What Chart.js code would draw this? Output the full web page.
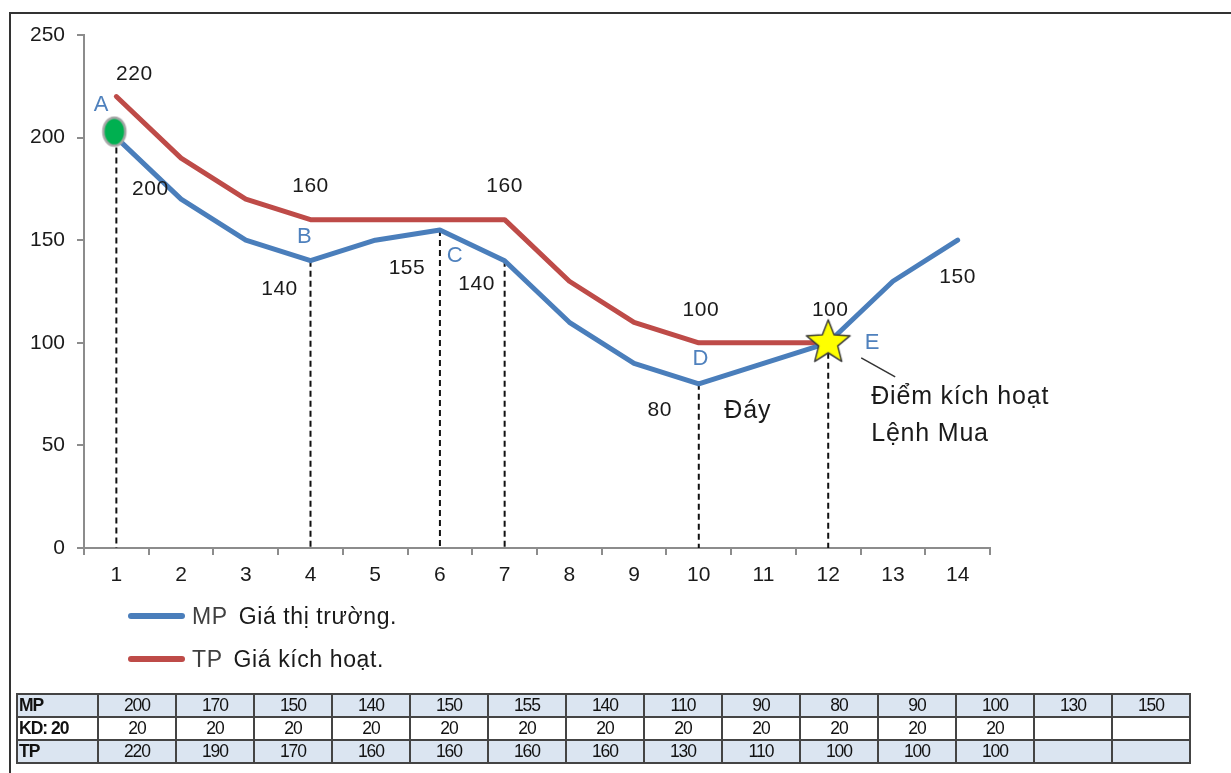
<!DOCTYPE html>
<html>
<head>
<meta charset="utf-8">
<script src="https://cdn.jsdelivr.net/npm/chart.js@4"></script>
<style>
  body { margin: 0; background: #fff; width: 1231px; height: 773px; overflow: hidden; position: relative;
    font-family: 'Liberation Sans', Arial, sans-serif; color: #1a1a1a; }
  #frame { position: absolute; left: 9px; top: 12px; width: 1240px; height: 780px;
    border-top: 2px solid #333; border-left: 2px solid #333; }
  #myChart { position: absolute; left: 0; top: 0; }
  .legend-item { position: absolute; left: 128px; height: 30px; display: flex; align-items: center;
    font-size: 23px; letter-spacing: 0.6px; }
  .legend-line { width: 57px; height: 6px; border-radius: 3px; margin-right: 7px; }
  .legend-code { color: #404040; margin-right: 11px; }
  #data-table { position: absolute; left: 16px; top: 693px; border-collapse: collapse; table-layout: fixed;
    font-family: 'Liberation Sans', Arial, sans-serif; font-size: 17.5px; letter-spacing: -1px; color: #111; }
  #data-table td { border: 2px solid #444; height: 21px; padding: 0; text-align: center; line-height: 21px; }
  #data-table td.row-head { text-align: left; padding-left: 1px; font-weight: bold; }
  #data-table tr.shaded td { background: #dbe5f1; }
</style>
</head>
<body>
<div id="frame"></div>
<canvas id="myChart" width="1231" height="773"></canvas>
<div class="legend-item" style="top:601px"><div class="legend-line" style="background:#4a7ebb"></div><span class="legend-code">MP</span><span>Giá thị trường.</span></div>
<div class="legend-item" style="top:644px"><div class="legend-line" style="background:#be4b48"></div><span class="legend-code">TP</span><span>Giá kích hoạt.</span></div>
<table id="data-table"></table>

<script>
'use strict';

// Chart data
const days = ['1', '2', '3', '4', '5', '6', '7', '8', '9', '10', '11', '12', '13', '14'];
const mpValues = [200, 170, 150, 140, 150, 155, 140, 110, 90, 80, 90, 100, 130, 150];
const kdValues = [20, 20, 20, 20, 20, 20, 20, 20, 20, 20, 20, 20];
const tpValues = [220, 190, 170, 160, 160, 160, 160, 130, 110, 100, 100, 100];
const dropDays = ['1', '4', '6', '7', '10', '12'];
const yMin = 0, yMax = 250, yStep = 50;

const mpLabel = 'MP', tpLabel = 'TP', kdLabel = 'KD: 20';

// text notes, anchored to a series point
const valueNotes = [
  { series: 'tp', day: '1', dx: 18, dy: -22 },
  { series: 'mp', day: '1', dx: 34, dy: 52 },
  { series: 'tp', day: '4', dx: 0, dy: -33 },
  { series: 'tp', day: '7', dx: 0, dy: -33 },
  { series: 'mp', day: '4', dx: -31, dy: 28 },
  { series: 'mp', day: '6', dx: -33, dy: 38 },
  { series: 'mp', day: '7', dx: -28, dy: 23 },
  { series: 'tp', day: '10', dx: 2, dy: -33 },
  { series: 'tp', day: '12', dx: 2, dy: -33 },
  { series: 'mp', day: '10', dx: -39, dy: 26 },
  { series: 'mp', day: '14', dx: 0, dy: 37 }
];
const letterNotes = [
  { text: 'A', day: '1', dx: -15, dy: -33 },
  { text: 'B', day: '4', dx: -6, dy: -24 },
  { text: 'C', day: '6', dx: 15, dy: 26 },
  { text: 'D', day: '10', dx: 2, dy: -25 },
  { text: 'E', day: '12', dx: 44, dy: 0 }
];

// table under the chart
const table = document.querySelector('#data-table');
const colGroup = document.createElement('colgroup');
colGroup.innerHTML = '<col style="width:81px">' + days.map(() => '<col style="width:78px">').join('');
table.appendChild(colGroup);

const addRow = (label, values, shaded) => {
  const tr = document.createElement('tr');
  if (shaded) tr.className = 'shaded';
  let html = `<td class="row-head">${label}</td>`;
  days.forEach((d, i) => {
    html += `<td>${values[i] !== undefined ? values[i] : ''}</td>`;
  });
  tr.innerHTML = html;
  table.appendChild(tr);
};
addRow(mpLabel, mpValues, true);
addRow(kdLabel, kdValues, false);
addRow(tpLabel, tpValues, true);

// point images
const makeEllipse = () => {
  const c = document.createElement('canvas');
  c.width = 40; c.height = 44;
  const g = c.getContext('2d');
  g.beginPath();
  g.ellipse(18, 16, 11, 14, 0, 0, Math.PI * 2);
  g.fillStyle = '#00b050';
  g.fill();
  g.lineWidth = 2.5;
  g.strokeStyle = '#a6a6a6';
  g.stroke();
  return c;
};

const makeStar = () => {
  const c = document.createElement('canvas');
  c.width = 54; c.height = 54;
  const g = c.getContext('2d');
  const R = 23, r = 10;
  g.beginPath();
  for (let i = 0; i < 10; i++) {
    const rad = i % 2 === 0 ? R : r;
    const a = -Math.PI / 2 + i * Math.PI / 5;
    const x = 27 + rad * Math.cos(a), y = 27 + rad * Math.sin(a);
    if (i === 0) g.moveTo(x, y); else g.lineTo(x, y);
  }
  g.closePath();
  g.fillStyle = '#ffff00';
  g.fill();
  g.lineWidth = 1.5;
  g.lineJoin = 'round';
  g.strokeStyle = '#3a3a3a';
  g.stroke();
  return c;
};

const ellipseImg = makeEllipse();
const starImg = makeStar();
const mpPointStyles = days.map(d => d === '1' ? ellipseImg : (d === '12' ? starImg : 'circle'));
const mpPointRadius = days.map(d => (d === '1' || d === '12') ? 10 : 0);

// plugin: dashed drop lines and notes
const notesPlugin = {
  id: 'notes',
  beforeDatasetsDraw(chart) {
    const { ctx, scales: { x, y } } = chart;
    ctx.save();
    ctx.strokeStyle = '#111';
    ctx.lineWidth = 2;
    ctx.setLineDash([6, 4]);
    dropDays.forEach(d => {
      const i = days.indexOf(d);
      const px = x.getPixelForValue(i);
      ctx.beginPath();
      ctx.moveTo(px, y.getPixelForValue(mpValues[i]));
      ctx.lineTo(px, y.getPixelForValue(0));
      ctx.stroke();
    });
    ctx.restore();
  },
  afterDatasetsDraw(chart) {
    const { ctx, scales: { x, y } } = chart;
    const at = (series, day) => {
      const i = days.indexOf(day);
      const v = series === 'tp' ? tpValues[i] : mpValues[i];
      return { px: x.getPixelForValue(i), py: y.getPixelForValue(v), v };
    };
    ctx.save();
    ctx.textAlign = 'center';
    ctx.textBaseline = 'middle';

    ctx.font = '21px "Liberation Sans", Arial, sans-serif';
    ctx.letterSpacing = '0.5px';
    ctx.fillStyle = '#1a1a1a';
    valueNotes.forEach(n => {
      const p = at(n.series, n.day);
      ctx.fillText(String(p.v), p.px + n.dx, p.py + n.dy);
    });

    ctx.font = '22px "Liberation Sans", Arial, sans-serif';
    ctx.fillStyle = '#4f81bd';
    letterNotes.forEach(n => {
      const p = at('mp', n.day);
      ctx.fillText(n.text, p.px + n.dx, p.py + n.dy);
    });

    // bottom and trigger point text
    const bottom = at('mp', '10');
    ctx.fillStyle = '#1a1a1a';
    ctx.font = '25px "Liberation Sans", Arial, sans-serif';
    ctx.letterSpacing = '0.8px';
    ctx.fillText('Đáy', bottom.px + 49, bottom.py + 27);

    const trig = at('mp', '12');
    ctx.textAlign = 'left';
    ctx.fillText('Điểm kích hoạt', trig.px + 43, trig.py + 54);
    ctx.fillText('Lệnh Mua', trig.px + 43, trig.py + 91);

    ctx.strokeStyle = '#333';
    ctx.lineWidth = 1.5;
    ctx.beginPath();
    ctx.moveTo(trig.px + 33, trig.py + 15);
    ctx.lineTo(trig.px + 67, trig.py + 34);
    ctx.stroke();
    ctx.restore();
  }
};

const ctx = document.querySelector('#myChart').getContext('2d');
const axisColor = '#8c8c8c';
const tickFont = { size: 21, family: '"Liberation Sans", Arial, sans-serif' };

const myChart = new Chart(ctx, {
  type: 'line',
  data: {
    labels: days,
    datasets: [{
      label: mpLabel,
      data: mpValues,
      borderColor: '#4a7ebb',
      borderWidth: 5,
      tension: 0,
      borderJoinStyle: 'round',
      borderCapStyle: 'round',
      pointStyle: mpPointStyles,
      pointRadius: mpPointRadius,
      pointHoverRadius: mpPointRadius
    }, {
      label: tpLabel,
      data: tpValues,
      borderColor: '#be4b48',
      borderWidth: 5,
      tension: 0,
      borderJoinStyle: 'round',
      borderCapStyle: 'round',
      pointRadius: 0,
      pointHoverRadius: 0
    }]
  },
  options: {
    responsive: false,
    animation: false,
    layout: {
      padding: { top: 35, right: 241, left: 0, bottom: 0 }
    },
    scales: {
      x: {
        offset: true,
        border: { color: axisColor, width: 2 },
        grid: {
          offset: true,
          drawOnChartArea: false,
          drawTicks: true,
          tickLength: 7,
          color: axisColor,
          lineWidth: 2
        },
        ticks: {
          color: '#1a1a1a',
          font: tickFont,
          padding: 8,
          maxRotation: 0
        },
        afterFit: (scale) => { scale.height = 225; }
      },
      y: {
        min: yMin,
        max: yMax,
        border: { color: axisColor, width: 2 },
        grid: {
          drawOnChartArea: false,
          drawTicks: true,
          tickLength: 7,
          color: axisColor,
          lineWidth: 2
        },
        ticks: {
          stepSize: yStep,
          color: '#1a1a1a',
          font: tickFont,
          padding: 12
        },
        afterFit: (scale) => { scale.width = 84; }
      }
    },
    plugins: {
      legend: { display: false },
      tooltip: { enabled: false }
    }
  },
  plugins: [notesPlugin]
});
</script>
</body>
</html>
